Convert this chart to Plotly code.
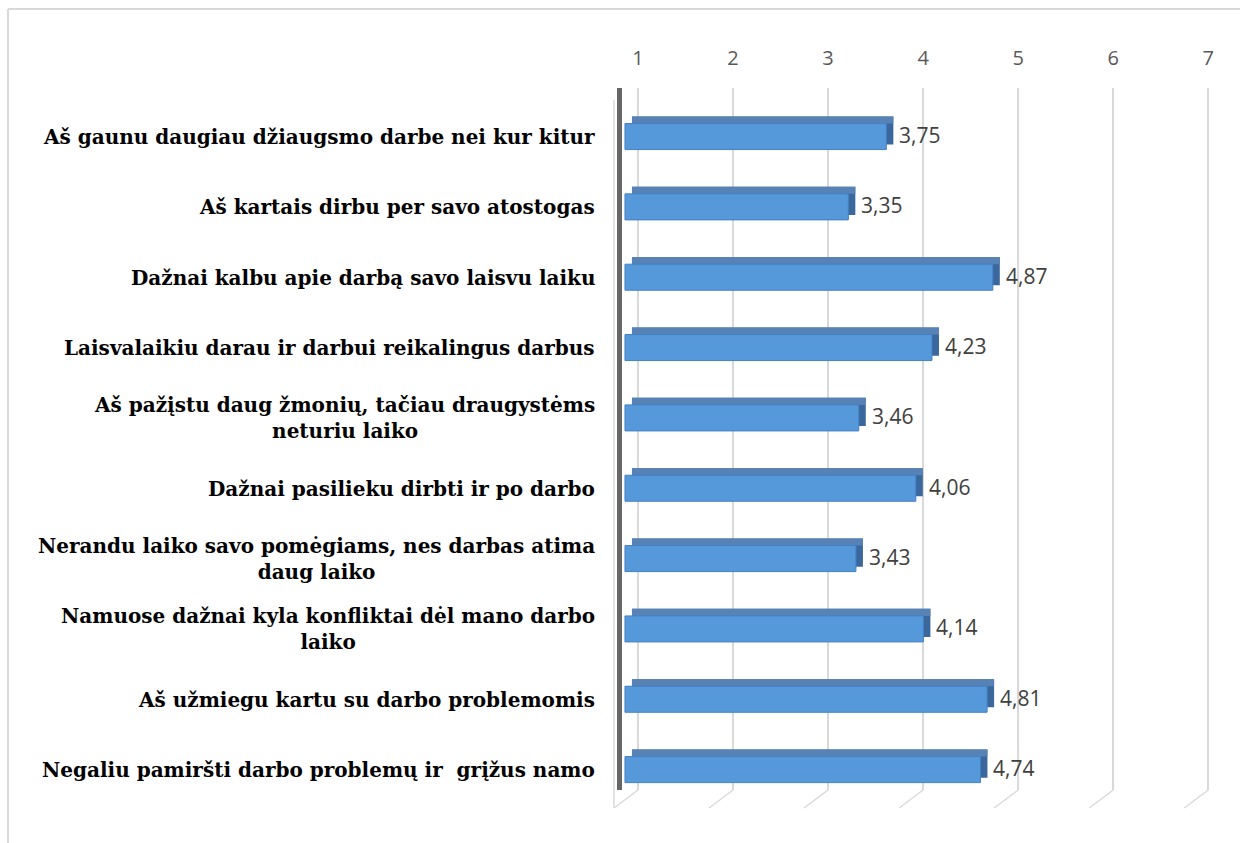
import plotly.graph_objects as go

categories = [
    "Aš gaunu daugiau džiaugsmo darbe nei kur kitur",
    "Aš kartais dirbu per savo atostogas",
    "Dažnai kalbu apie darbą savo laisvu laiku",
    "Laisvalaikiu darau ir darbui reikalingus darbus",
    "Aš pažįstu daug žmonių, tačiau draugystėms<br>neturiu laiko",
    "Dažnai pasilieku dirbti ir po darbo",
    "Nerandu laiko savo pomėgiams, nes darbas atima<br>daug laiko",
    "Namuose dažnai kyla konfliktai dėl mano darbo<br>laiko",
    "Aš užmiegu kartu su darbo problemomis",
    "Negaliu pamiršti darbo problemų ir  grįžus namo",
]
values = [3.75, 3.35, 4.87, 4.23, 3.46, 4.06, 3.43, 4.14, 4.81, 4.74]
value_labels = [f"{v:.2f}".replace(".", ",") for v in values]
tick_values = [1, 2, 3, 4, 5, 6, 7]

AXIS_MIN = 1
X0, X1 = 0.832, 7.05
W, H = 1243, 843
L, R, T, B = 622, 30, 88, 53
pw = W - L - R
ph = H - T - B
PPU = pw / (X1 - X0)
FRONT_SHIFT = 13 / PPU   # 3D front plane offset
DEPTH_SHIFT = 6 / PPU    # 3D depth offset (top / side faces)


def px_x(p):
    return (p - L) / pw


def px_y(p):
    return (H - B - p) / ph


def data_to_paper_x(v):
    return (v - X0) / (X1 - X0)


ypos = list(range(len(categories)))
lengths = [v - AXIS_MIN for v in values]

fig = go.Figure()
# side face (visible only past the end of the front face)
fig.add_trace(go.Bar(
    y=ypos, x=lengths, base=AXIS_MIN, orientation="h",
    width=0.4, offset=-0.235,
    marker=dict(color="#3A679C", line=dict(width=0)),
    xaxis="x2", hoverinfo="skip",
))
# top face
fig.add_trace(go.Bar(
    y=ypos, x=lengths, base=AXIS_MIN, orientation="h",
    width=0.1, offset=-0.235,
    marker=dict(color="#5682B6", line=dict(width=0)),
    xaxis="x2", hoverinfo="skip",
))
# front face
fig.add_trace(go.Bar(
    y=ypos, x=lengths, base=AXIS_MIN, orientation="h",
    width=0.37, offset=-0.135,
    marker=dict(color="#5599DB", line=dict(color="#4580C4", width=1)),
    xaxis="x3", hoverinfo="skip",
))

annotations = []
for i, c in enumerate(categories):
    annotations.append(dict(
        x=px_x(597), xref="paper", y=i, yref="y", yshift=-4,
        text=c, showarrow=False, xanchor="right", yanchor="middle",
        align="center",
        font=dict(family="DejaVu Serif", size=20, color="#000000", weight="bold"),
    ))
for i, (v, lab) in enumerate(zip(values, value_labels)):
    annotations.append(dict(
        x=v, xref="x", y=i, yref="y", yshift=-2, xshift=-2,
        text=lab, showarrow=False, xanchor="left", yanchor="middle",
        font=dict(family="Open Sans", size=21, color="#404040"),
    ))

shapes = []
shapes.append(dict(type="line", xref="paper", yref="paper",
                   x0=px_x(8), x1=px_x(1240), y0=px_y(9), y1=px_y(9),
                   line=dict(color="#D9D9D9", width=2)))
shapes.append(dict(type="line", xref="paper", yref="paper",
                   x0=px_x(8), x1=px_x(8), y0=px_y(9), y1=px_y(845),
                   line=dict(color="#D9D9D9", width=2)))
dx = 24 / PPU
for t in tick_values:
    shapes.append(dict(type="line", xref="paper", yref="paper",
                       x0=data_to_paper_x(t), y0=0,
                       x1=data_to_paper_x(t - dx), y1=px_y(808),
                       line=dict(color="#D9D9D9", width=1.5)))
shapes.append(dict(type="line", xref="paper", yref="paper",
                   x0=data_to_paper_x(1 - dx), x1=data_to_paper_x(1 - dx),
                   y0=px_y(100), y1=px_y(808),
                   line=dict(color="#D9D9D9", width=1.5)))

fig.update_layout(
    width=W, height=H,
    margin=dict(l=L, r=R, t=T, b=B),
    paper_bgcolor="white", plot_bgcolor="white",
    showlegend=False,
    barmode="overlay",
    annotations=annotations,
    shapes=shapes,
    xaxis=dict(
        side="top", range=[X0, X1], tickvals=tick_values,
        ticktext=[str(t) for t in tick_values],
        showgrid=True, gridcolor="#D9D9D9", gridwidth=1.5,
        zeroline=False, showline=False, ticks="",
        ticklabelstandoff=18,
        tickfont=dict(family="Open Sans", size=20, color="#595959"),
    ),
    xaxis2=dict(
        overlaying="x", range=[X0 + DEPTH_SHIFT, X1 + DEPTH_SHIFT],
        visible=False, showgrid=False, zeroline=False,
    ),
    xaxis3=dict(
        overlaying="x", range=[X0 + FRONT_SHIFT, X1 + FRONT_SHIFT],
        visible=False, showgrid=False, zeroline=False,
    ),
    yaxis=dict(
        range=[9.34, -0.64], showticklabels=False, showgrid=False,
        zeroline=False, showline=True, linecolor="#666666", linewidth=5,
        ticks="",
    ),
)

fig.write_html("out.html")
